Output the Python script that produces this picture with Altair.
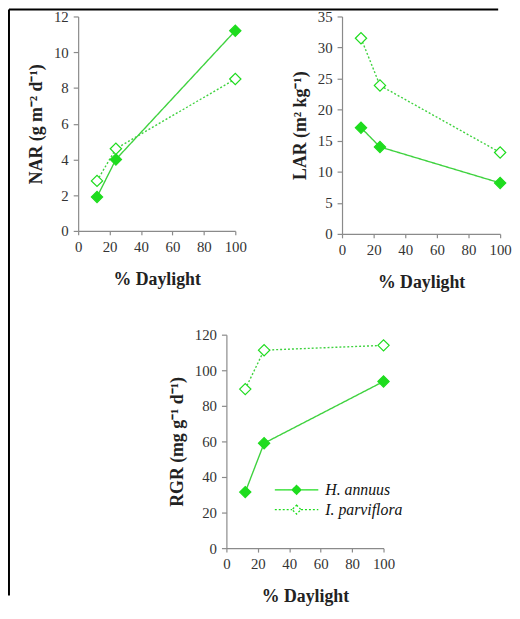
import altair as alt
import pandas as pd

# ---- data ----
daylight = [12, 24, 100]
species = ["H. annuus", "I. parviflora"]
nar_h = [1.9, 4.0, 11.2]
nar_i = [2.8, 4.6, 8.5]
lar_h = [17.1, 14.0, 8.2]
lar_i = [31.5, 23.9, 13.1]
rgr_h = [31.5, 59.0, 93.7]
rgr_i = [89.4, 111.3, 114.0]
x_ticks = [0, 20, 40, 60, 80, 100]
nar_ticks = [0, 2, 4, 6, 8, 10, 12]
lar_ticks = [0, 5, 10, 15, 20, 25, 30, 35]
rgr_ticks = [0, 20, 40, 60, 80, 100, 120]

GREEN = "#1edc1e"
LINE_GREEN = "#3fd23f"
FONT = "Liberation Serif"
LEG_PATH = "M-4.4,0L-0.9,0M0.9,0L4.4,0M0,-0.9L0.9,0L0,0.9L-0.9,0Z"


def frame(h, i):
    return pd.DataFrame({
        "daylight": daylight * 2,
        "value": h + i,
        "species": [species[0]] * 3 + [species[1]] * 3,
    })


def panel(df, ytitle, ydom, yticks, w, h, legend=False, border=False):
    if legend:
        leg = alt.Legend(orient="none", legendX=63, legendY=149, title=None)
    else:
        leg = None
    xenc = alt.X("daylight:Q", scale=alt.Scale(domain=[0, 100], nice=False),
                 axis=alt.Axis(values=x_ticks, title="% Daylight", format="d"))
    yenc = alt.Y("value:Q", scale=alt.Scale(domain=ydom, nice=False),
                 axis=alt.Axis(values=yticks, title=ytitle, format="d"))
    base = alt.Chart(df)
    line = base.mark_line(color=LINE_GREEN, strokeWidth=1.4).encode(
        x=xenc, y=yenc,
        strokeDash=alt.StrokeDash("species:N",
                                  scale=alt.Scale(domain=species, range=[[1, 0], [2, 2]]),
                                  legend=leg),
    )
    pts = base.mark_point(shape="diamond", filled=True, size=130, stroke=GREEN,
                          strokeWidth=1.2, opacity=1).encode(
        x=xenc, y=yenc,
        fill=alt.Fill("species:N",
                      scale=alt.Scale(domain=species, range=[GREEN, "white"]),
                      legend=leg),
    )
    layers = [line, pts]
    if border:
        bdf = pd.DataFrame({"k": [0]})
        top = alt.Chart(bdf).mark_rule(color="black", strokeWidth=2).encode(
            x=alt.value(-70), x2=alt.value(425), y=alt.value(-7))
        left = alt.Chart(bdf).mark_rule(color="black", strokeWidth=2).encode(
            x=alt.value(-70), y=alt.value(-7), y2=alt.value(586))
        layers += [top, left]
    return alt.layer(*layers).properties(width=w, height=h)


p1 = panel(frame(nar_h, nar_i), "NAR (g m\u207b\u00b2 d\u207b\u00b9)", [0, 12], nar_ticks, 159, 217, border=True)
p2 = panel(frame(lar_h, lar_i), "LAR (m\u00b2 kg\u207b\u00b9)", [0, 35], lar_ticks, 160, 220)
p3 = panel(frame(rgr_h, rgr_i), "RGR (mg g\u207b\u00b9 d\u207b\u00b9)", [0, 120], rgr_ticks, 159, 216, legend=True)

spacer = alt.Chart(pd.DataFrame({"k": [0]})).mark_point(opacity=0).encode(
    x=alt.value(0), y=alt.value(0)).properties(width=150, height=216)

row1 = alt.hconcat(p1, p2, spacing=108, bounds="flush").resolve_scale(
    fill="independent", strokeDash="independent").resolve_legend(
    fill="independent", strokeDash="independent")
row2 = alt.hconcat(spacer, p3, spacing=0, bounds="flush").resolve_scale(
    fill="independent", strokeDash="independent").resolve_legend(
    fill="independent", strokeDash="independent")

# nested flush rows count as zero height, so the spacing spans row 1 too
chart = alt.vconcat(row1, row2, spacing=322, bounds="flush").resolve_scale(
    fill="independent", strokeDash="independent").resolve_legend(
    fill="independent", strokeDash="independent").properties(
    padding={"left": 0, "top": -3, "right": 0, "bottom": 0}
).configure_view(stroke=None).configure_axis(
    grid=False,
    domainColor="#8a8a8a", tickColor="#8a8a8a", domainWidth=1.2, tickWidth=1.2,
    labelFont=FONT, labelFontSize=15, labelColor="#333333",
    titleFont=FONT, titleFontSize=18, titleFontWeight="bold", titleColor="#222222",
).configure_axisY(
    tickSize=5, labelPadding=5, titlePadding=8,
).configure_axisX(
    tickSize=4, labelPadding=5, titlePadding=16, labelFlush=False,
).configure_legend(
    symbolType=LEG_PATH, symbolSize=100, symbolStrokeColor=GREEN,
    symbolStrokeWidth=1.3, labelFont=FONT, labelFontStyle="italic",
    labelFontSize=16, labelColor="#111111", labelOffset=21, rowPadding=4,
    padding=0,
)

chart.save("out.html", embed_options={"renderer": "svg", "actions": False})
